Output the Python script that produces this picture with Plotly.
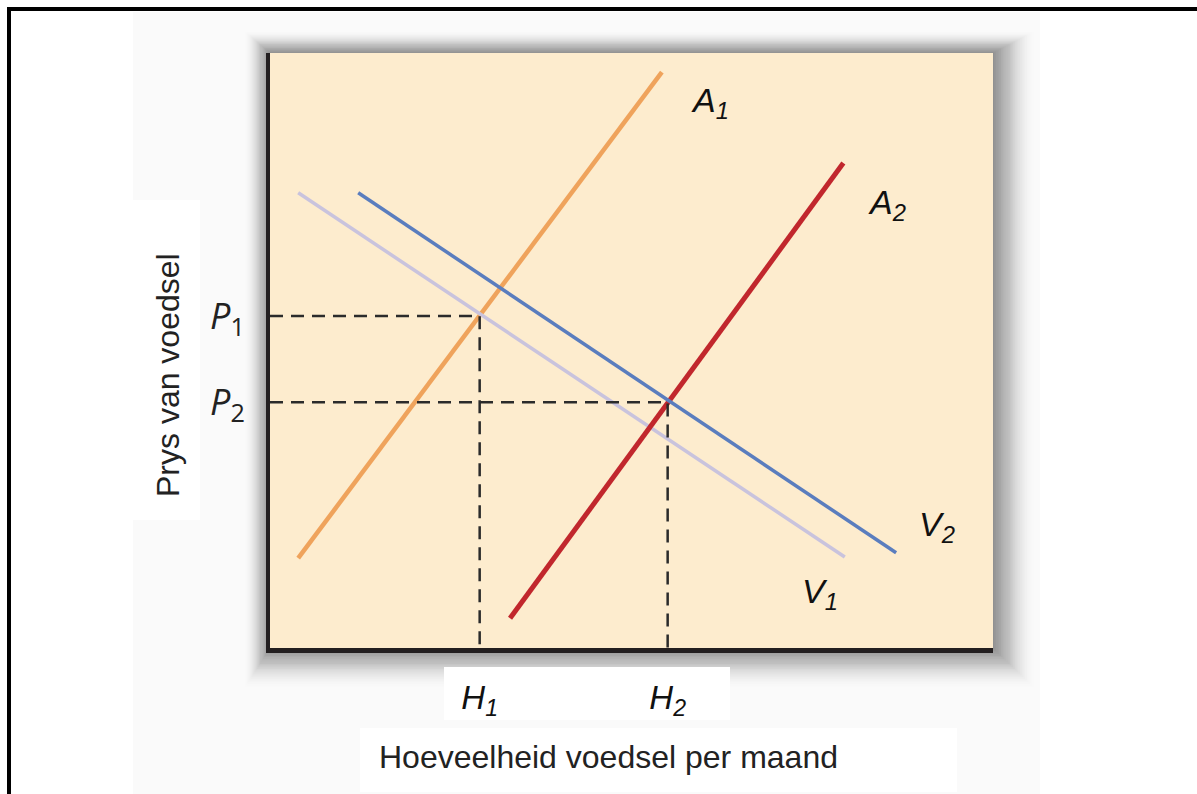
import plotly.graph_objects as go

# curves (quantity on x, price on y, both 0..10)
a1_x = [0.39, 5.42]
a1_y = [1.51, 9.68]
a2_x = [3.32, 7.93]
a2_y = [0.50, 8.15]
v1_x = [0.39, 7.95]
v1_y = [7.65, 1.53]
v2_x = [1.22, 8.66]
v2_y = [7.65, 1.60]

# equilibrium points
h_vals = [2.90, 5.50]
p_vals = [5.58, 4.13]
h_text = ["<i>H<sub>1</sub></i>", "<i>H<sub>2</sub></i>"]
p_text = ["<i>P</i><sub>1</sub>", "<i>P</i><sub>2</sub>"]

curve_labels = ["<i>A<sub>1</sub></i>", "<i>A<sub>2</sub></i>",
                "<i>V<sub>2</sub></i>", "<i>V<sub>1</sub></i>"]
label_x = [6.09, 8.53, 9.23, 7.61]
label_y = [9.16, 7.45, 2.05, 0.91]

W, H = 1197, 794
L, R, T, B = 270, 993, 53, 648
FONT = "Arial, Liberation Sans, sans-serif"


def px(x):
    return (x - L) / (R - L)


def py(y):
    return (B - y) / (B - T)


def paper_rect(x0, y0, x1, y1, color, opacity=1.0):
    return dict(type="rect", xref="paper", yref="paper", layer="below",
                x0=px(x0), x1=px(x1), y0=py(y1), y1=py(y0),
                fillcolor=color, opacity=opacity, line_width=0)


fig = go.Figure()

fig.add_trace(go.Scatter(x=a1_x, y=a1_y, mode="lines",
                         line=dict(color="#EFA35C", width=4.5)))
fig.add_trace(go.Scatter(x=v1_x, y=v1_y, mode="lines",
                         line=dict(color="#C9C3DD", width=3.5)))
fig.add_trace(go.Scatter(x=a2_x, y=a2_y, mode="lines",
                         line=dict(color="#C1272D", width=5)))
fig.add_trace(go.Scatter(x=v2_x, y=v2_y, mode="lines",
                         line=dict(color="#5A7DBE", width=3.5)))

# dashed guides from axis to equilibrium and down
for h, p in zip(h_vals, p_vals):
    fig.add_trace(go.Scatter(x=[0, h, h], y=[p, p, 0], mode="lines",
                             line=dict(color="#2b2b2b", width=2.5, dash="13px,8px")))

shapes = [paper_rect(133, 12, 1040, 794, "#FAFAFA")]
# soft shadow around the plot panel, denser near the edge, fading outwards
for i in range(24):
    d = 1 + i * 1.5
    op = 0.055 * (1 - i / 26)
    shapes.append(paper_rect(L - d * 0.7, T - d * 0.6, R + d * 1.15, B + d * 1.1, "#404040", op))
shapes.append(paper_rect(L, T, R, B, "#FDECCE"))
# white patches behind the outer labels
shapes.append(paper_rect(133, 200, 200, 520, "#FFFFFF"))
shapes.append(paper_rect(444, 667, 730, 720, "#FFFFFF"))
shapes.append(paper_rect(360, 728, 957, 792, "#FFFFFF"))
# page frame
shapes.append(paper_rect(7, 7, W, 11, "#000000"))
shapes.append(paper_rect(7, 7, 11, H, "#000000"))

annotations = []
for t, x, y in zip(curve_labels, label_x, label_y):
    annotations.append(dict(text=t, x=x, y=y, xref="x", yref="y", showarrow=False,
                            xanchor="center", yanchor="middle",
                            font=dict(family=FONT, size=34, color="#111111")))
annotations.append(dict(text="Hoeveelheid voedsel per maand", xref="paper", yref="paper",
                        x=px(608), y=py(757), showarrow=False,
                        xanchor="center", yanchor="middle",
                        font=dict(family=FONT, size=32, color="#222222")))
annotations.append(dict(text="Prys van voedsel", xref="paper", yref="paper",
                        x=px(168), y=py(375), showarrow=False, textangle=-90,
                        xanchor="center", yanchor="middle",
                        font=dict(family=FONT, size=32, color="#222222")))

fig.update_layout(
    width=W, height=H,
    margin=dict(l=L, r=W - R, t=T, b=H - B, pad=0),
    paper_bgcolor="#FFFFFF", plot_bgcolor="rgba(0,0,0,0)",
    showlegend=False,
    shapes=shapes,
    annotations=annotations,
)
fig.update_xaxes(range=[0, 10], showgrid=False, zeroline=False, showline=True,
                 linecolor="#231F20", linewidth=5, ticks="",
                 tickvals=h_vals, ticktext=h_text, ticklabelstandoff=16,
                 tickfont=dict(family=FONT, size=33, color="#111111"))
fig.update_yaxes(range=[0, 10], showgrid=False, zeroline=False, showline=True,
                 linecolor="#231F20", linewidth=4, ticks="",
                 tickvals=p_vals, ticktext=p_text, ticklabelstandoff=14,
                 tickfont=dict(family="Open Sans, sans-serif", size=36, color="#222222"))

fig.write_html("out.html", config={"displayModeBar": False},
               post_script="document.body.style.margin='0';")
